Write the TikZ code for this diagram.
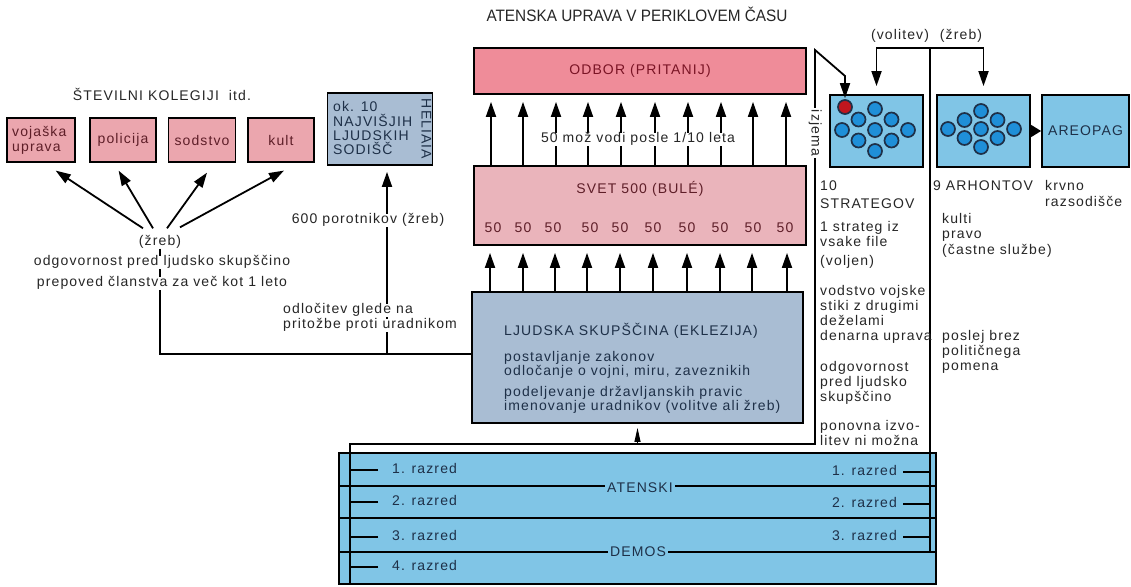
\documentclass[tikz,border=0pt]{standalone}
\usepackage{fontspec}
\setmainfont[LetterSpace=8]{Liberation Sans}
\newfontfamily\condfont{Liberation Sans}
\usetikzlibrary{arrows.meta,calc}
\definecolor{odborc}{HTML}{EF8C99}
\definecolor{svetc}{HTML}{EAB4BB}
\definecolor{kolc}{HTML}{EBA6AE}
\definecolor{greyblue}{HTML}{A9BDD3}
\definecolor{skyc}{HTML}{80C5E6}
\definecolor{circc}{HTML}{1F8FD8}
\definecolor{redc}{HTML}{C0161E}
\definecolor{txt}{HTML}{262626}
\definecolor{navy}{HTML}{1E3048}
\definecolor{maroon}{HTML}{5E1E28}
\definecolor{redtxt}{HTML}{7A1425}
\tikzset{
  fnt/.style={font=\fontsize{14}{15}\selectfont},
  lbl/.style={fnt, text=txt, inner sep=0pt, text height=10pt, text depth=3pt},
  wlbl/.style={lbl, fill=white, inner xsep=2pt},
  box/.style={draw=black, line width=1.8pt, inner sep=0pt},
  ln/.style={line width=1.6pt},
  arr/.style={line width=1.8pt, -{Triangle[length=15pt,width=10pt]}},
  dot/.style={circle, draw=navy, line width=1.7pt, fill=circc, minimum size=14pt, inner sep=0pt},
}
\begin{document}
\begin{tikzpicture}[x=1pt,y=-1pt]
\useasboundingbox (0,0) rectangle (1131,586);
% title
\node[lbl, font=\condfont\fontsize{16.5}{17}\selectfont, text height=12pt] (title) at (637,17) {\scalebox{0.93}[1]{ATENSKA UPRAVA V PERIKLOVEM ČASU}};
% ---------------- central column
\node[box, fill=odborc, minimum width=332pt, minimum height=46pt, fnt, text=redtxt] (odbor) at (640,71) {ODBOR (PRITANIJ)};
\node[box, fill=svetc, minimum width=332pt, minimum height=79pt] (svet) at (640,205.5) {};
\node[lbl, text=maroon] (svett) at (640,190) {SVET 500 (BULÉ)};
\foreach \x [count=\i] in {493,523,553,590,620,653,687,720,753,785}
  \node[lbl, text=maroon] (f\i) at (\x,229) {50};
\foreach \x [count=\i] in {491,523,556,588,621,655,688,721,753,786} {
  \coordinate (ua\i) at (\x,0);
  \draw[arr, shorten >=7pt] (ua\i |- svet.north) -- (ua\i |- odbor.south);
}
\node[wlbl] (mozje) at (638,139) {50 mož vodi posle 1/10 leta};
\node[box, fill=greyblue, minimum width=331pt, minimum height=131pt] (ekl) at (637.5,357.5) {};
\foreach \x [count=\i] in {490,523,555,587,620,653,687,720,752,787} {
  \coordinate (lb\i) at (\x,0);
  \draw[arr, shorten >=7pt] (lb\i |- ekl.north) -- (lb\i |- svet.south);
}
\node[lbl, anchor=west, text=navy] (ekt) at (504,332) {LJUDSKA SKUPŠČINA (EKLEZIJA)};
\node[lbl, anchor=west, text=navy] (ek1) at (504,358) {postavljanje zakonov};
\node[lbl, anchor=west, text=navy] (ek2) at (504,372) {odločanje o vojni, miru, zaveznikih};
\node[lbl, anchor=west, text=navy] (ek3) at (504,393) {podeljevanje državljanskih pravic};
\node[lbl, anchor=west, text=navy] (ek4) at (504,407) {imenovanje uradnikov (volitve ali žreb)};
% ---------------- left side
\node[lbl] (kolt) at (162,97) {ŠTEVILNI KOLEGIJI\ \ itd.};
\node[box, fill=kolc, minimum width=68pt, minimum height=44pt] (voj) at (41,140) {};
\node[lbl, anchor=west, text=maroon] (voj1) at (12,133) {vojaška};
\node[lbl, anchor=west, text=maroon] (voj2) at (12,148) {uprava};
\node[box, fill=kolc, minimum width=66pt, minimum height=44pt, fnt, text=maroon] (pol) at (123,140) {policija};
\node[box, fill=kolc, minimum width=67pt, minimum height=44pt, fnt, text=maroon] (sod) at (202,140) {sodstvo};
\node[box, fill=kolc, minimum width=66pt, minimum height=44pt, fnt, text=maroon] (kult) at (281,140) {kult};
\node[box, fill=greyblue, minimum width=105pt, minimum height=72pt] (hel) at (380,129) {};
\node[lbl, anchor=west, text=navy] (hel1) at (333,108) {ok. 10};
\node[lbl, anchor=west, text=navy] (hel2) at (333,123) {NAJVIŠJIH};
\node[lbl, anchor=west, text=navy] (hel3) at (333,137) {LJUDSKIH};
\node[lbl, anchor=west, text=navy] (hel4) at (333,151) {SODIŠČ};
\node[lbl, text=navy, rotate=-90] (helr) at (425,129) {HELIAIA};
% (zreb) and the lines to the assembly
\node[lbl] (zreb) at (160,242) {(žreb)};
\coordinate (lc) at (160,354);
\coordinate (hc) at (387,354);
\draw[ln] (zreb.south) -- (zreb.south |- lc) -- (lc -| ekl.west);
\draw[arr, shorten >=6pt] (hc) -- (hc |- hel.south);
\draw[arr, shorten >=14pt] ($(zreb.north)+(-17,-7)$) -- ($(voj.south)+(3,0)$);
\draw[arr, shorten >=9pt] ($(zreb.north)+(-7,-7)$) -- ($(pol.south)+(-9,0)$);
\draw[arr, shorten >=12pt] ($(zreb.north)+(7,-7)$) -- ($(sod.south)+(12,0)$);
\draw[arr, shorten >=16pt] ($(zreb.north)+(20,-8)$) -- ($(kult.south)+(17,0)$);
\node[wlbl] (odg) at (162,262) {odgovornost pred ljudsko skupščino};
\node[wlbl] (prep) at (162,283) {prepoved članstva za več kot 1 leto};
\node[wlbl] (por) at (368,220) {600 porotnikov (žreb)};
\node[wlbl, anchor=west] (odl1) at (281,310) {odločitev glede na};
\node[wlbl, anchor=west] (odl2) at (281,325) {pritožbe proti uradnikom};
% ---------------- demos
\node[box, fill=skyc, minimum width=597pt, minimum height=131pt] (demos) at (637.5,518.5) {};
\foreach \d in {34,66,100}
  \draw[ln] ($(demos.north west)+(0,\d)$) -- ($(demos.north east)+(0,\d)$);
\node[lbl, fill=skyc, inner xsep=2pt, text=navy] (aten) at (640,489) {ATENSKI};
\node[lbl, fill=skyc, inner xsep=2pt, text=navy] (demt) at (638,553) {DEMOS};
\foreach \y/\n [count=\i] in {470/1,502/2,537/3,567/4} {
  \node[lbl, anchor=west, text=navy] (rl\i) at (392,\y) {\n. razred};
  \draw[ln] (rl\i.west) ++(-14,0) -- ++(-28,0);
}
\foreach \y/\n [count=\i] in {472/1,504/2,537/3} {
  \node[lbl, anchor=east, text=navy] (rr\i) at (897,\y) {\n. razred};
  \draw[ln] (rr\i.east) ++(6,0) -- ++(27,0);
}
\coordinate (ek) at (637.5,444);
\draw[line width=1pt, -{Triangle[length=14pt,width=6pt]}, shorten >=4pt] (ek) -- (ekl.south);
% ---------------- right side boxes
\node[box, fill=skyc, minimum width=93pt, minimum height=72pt] (strat) at (876.5,131) {};
\node[box, fill=skyc, minimum width=93pt, minimum height=72pt] (arh) at (983.5,131) {};
\node[box, fill=skyc, minimum width=87pt, minimum height=72pt, fnt, text=navy] (areo) at (1085.5,131) {AREOPAG};
\draw[line width=1.8pt, -{Triangle[length=11pt,width=13pt]}] (arh.east) -- (areo.west);
\foreach \dx/\dy [count=\i] in {0/-21,-16.5/-10.5,16.5/-10.5,-33/0,0/0,33/0,-16.5/10.5,16.5/10.5,0/21} {
  \node[dot] (s\i) at (875+\dx,130+\dy) {};
}
\foreach \dx/\dy [count=\i] in {0/-18,-16.5/-9,16.5/-9,-33/0,0/0,33/0,-16.5/9,16.5/9,0/18} {
  \node[dot] (a\i) at (981+\dx,129+\dy) {};
}
\node[dot, fill=redc] (sr) at (845,107) {};
% bracket (volitev) (zreb)
\coordinate (vt) at (930,48);
\coordinate (dr) at (930,553);
\node[lbl] (vol) at (900,36) {(volitev)};
\node[lbl] (zr2) at (961,36) {(žreb)};
\draw[ln] (vt) -- (dr);
\draw[arr, shorten >=8pt] (vt) -| (strat.north);
\draw[arr, shorten >=8pt] (vt) -| (arh.north);
% izjema path
\coordinate (d0) at (350,584);
\coordinate (d1) at (350,444);
\coordinate (d2) at (815,444);
\coordinate (d3) at (815,50);
\coordinate (d4) at (845,76);
\draw[arr, shorten >=1pt] (d0) -- (d1) -- (d2) -- (d3) -- (d4) -- (sr.north);
\node[lbl, fill=white, rotate=-90, inner xsep=2pt] (izj) at (815,133) {izjema};
% strategoi texts
\foreach \y/\t [count=\i] in {187/10,205/STRATEGOV,228/1 strateg iz,243/vsake file,262/(voljen),292/vodstvo vojske,307/stiki z drugimi,322/deželami,337/denarna uprava,368/odgovornost,383/pred ljudsko,398/skupščino,427/ponovna izvo-,442/litev ni možna}
  \node[lbl, anchor=west] (st\i) at (820,\y) {\t};
\node[lbl, anchor=west] (ar0) at (933,187) {9 ARHONTOV};
\foreach \y/\t [count=\i] in {220/kulti,235/pravo,251/(častne službe),337/poslej brez,352/političnega,367/pomena}
  \node[lbl, anchor=west] (ar\i) at (942,\y) {\t};
\node[lbl, anchor=west] (kr1) at (1045,187) {krvno};
\node[lbl, anchor=west] (kr2) at (1045,203) {razsodišče};
\end{tikzpicture}
\end{document}
